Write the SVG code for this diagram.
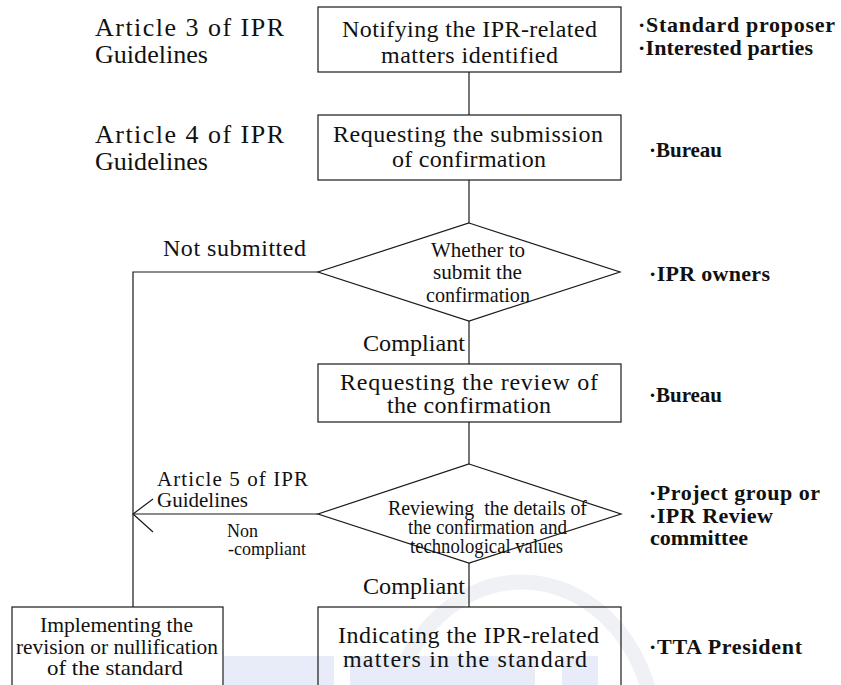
<svg xmlns="http://www.w3.org/2000/svg" width="841" height="685" viewBox="0 0 841 685" font-family="'Liberation Serif', 'Times New Roman', Times, serif">
  <style>
    .shape { fill: none; stroke: #1a1a1a; stroke-width: 1.2; }
    .wire { fill: none; stroke: #1a1a1a; stroke-width: 1.2; }
    .t { font-family: 'Liberation Serif', 'Times New Roman', Times, serif; fill: #111; }
    .art { font-size: 26px; }
    .box { font-size: 24px; }
    .dia1 { font-size: 22px; }
    .dia2 { font-size: 20px; }
    .edge { font-size: 24px; }
    .small { font-size: 18px; }
    .role { font-size: 22px; font-weight: bold; }
  </style>

  <!-- faint background emblem -->
  <g id="emblem">
    <ellipse cx="522" cy="738" rx="133" ry="156" fill="none" stroke="#eff1f5" stroke-width="15"/>
    <rect x="224" y="656" width="110" height="29" fill="#e8ebf8"/>
    <rect x="350" y="656" width="185" height="29" fill="#e8ebf8"/>
    <rect x="562" y="656" width="36" height="29" fill="#e8ebf8"/>
  </g>

  <!-- connectors -->
  <g id="connectors">
    <line class="wire" x1="469" y1="72" x2="469" y2="115"/>
    <line class="wire" x1="469" y1="180" x2="469" y2="223"/>
    <line class="wire" x1="469" y1="321" x2="469" y2="364"/>
    <line class="wire" x1="469" y1="422" x2="469" y2="464"/>
    <line class="wire" x1="469" y1="563" x2="469" y2="607"/>
    <polyline class="wire" points="318,272 133,272 133,607"/>
    <line class="wire" x1="318" y1="514" x2="133" y2="514"/>
    <polyline class="wire" points="153,499 133,514 153,532"/>
  </g>

  <!-- edge labels -->
  <g id="edge-labels" class="t">
    <text class="edge" x="163" y="256" textLength="143" lengthAdjust="spacing">Not submitted</text>
    <text class="edge" x="363" y="351" textLength="102" lengthAdjust="spacingAndGlyphs">Compliant</text>
    <text class="edge" x="363" y="594" textLength="102" lengthAdjust="spacingAndGlyphs">Compliant</text>
    <text style="font-size:21px" x="157" y="486" textLength="151" lengthAdjust="spacing">Article 5 of IPR</text>
    <text style="font-size:21px" x="157" y="507" textLength="91" lengthAdjust="spacingAndGlyphs">Guidelines</text>
    <text class="small" x="227" y="537">Non</text>
    <text class="small" x="228" y="555">-compliant</text>
  </g>

  <!-- article references -->
  <g id="articles" class="t">
    <text class="art" x="95" y="36" textLength="189" lengthAdjust="spacing">Article 3 of IPR</text>
    <text class="art" x="95" y="63" textLength="113" lengthAdjust="spacingAndGlyphs">Guidelines</text>
    <text class="art" x="95" y="143" textLength="189" lengthAdjust="spacing">Article 4 of IPR</text>
    <text class="art" x="95" y="170" textLength="113" lengthAdjust="spacingAndGlyphs">Guidelines</text>
  </g>

  <g id="notify" class="t">
    <rect class="shape" x="318" y="7" width="303" height="65"/>
    <text class="box" x="342" y="37" textLength="255" lengthAdjust="spacing">Notifying the IPR-related</text>
    <text class="box" x="381" y="63" textLength="177" lengthAdjust="spacing">matters identified</text>
  </g>

  <g id="request-submission" class="t">
    <rect class="shape" x="318" y="115" width="303" height="65"/>
    <text class="box" x="333" y="142" textLength="270" lengthAdjust="spacing">Requesting the submission</text>
    <text class="box" x="392" y="167" textLength="154" lengthAdjust="spacing">of confirmation</text>
  </g>

  <g id="submit-decision" class="t">
    <polygon class="shape" points="469,223 620,272 469,321 318,272"/>
    <text class="dia1" x="431" y="257" textLength="94" lengthAdjust="spacingAndGlyphs">Whether to</text>
    <text class="dia1" x="433" y="279" textLength="89" lengthAdjust="spacingAndGlyphs">submit the</text>
    <text class="dia1" x="426" y="302" textLength="104" lengthAdjust="spacingAndGlyphs">confirmation</text>
  </g>

  <g id="request-review" class="t">
    <rect class="shape" x="318" y="364" width="303" height="58"/>
    <text class="box" x="340" y="390" textLength="258" lengthAdjust="spacing">Requesting the review of</text>
    <text class="box" x="387" y="413" textLength="164" lengthAdjust="spacing">the confirmation</text>
  </g>

  <g id="review-decision" class="t">
    <polygon class="shape" points="469,464 621,514 469,563 318,514"/>
    <text class="dia2" x="388" y="515" textLength="199" lengthAdjust="spacingAndGlyphs" xml:space="preserve">Reviewing  the details of</text>
    <text class="dia2" x="408" y="534" textLength="159" lengthAdjust="spacingAndGlyphs">the confirmation and</text>
    <text class="dia2" x="410" y="553" textLength="153" lengthAdjust="spacingAndGlyphs">technological values</text>
  </g>

  <g id="revise-standard" class="t">
    <rect class="shape" x="12" y="607" width="211" height="100"/>
    <text class="dia1" x="40" y="632" textLength="153" lengthAdjust="spacingAndGlyphs">Implementing the</text>
    <text class="dia1" x="16" y="654" textLength="202" lengthAdjust="spacingAndGlyphs">revision or nullification</text>
    <text class="dia1" x="47" y="675" textLength="136" lengthAdjust="spacingAndGlyphs">of the standard</text>
  </g>

  <g id="indicate" class="t">
    <rect class="shape" x="318" y="607" width="303" height="100"/>
    <text class="box" x="338" y="643" textLength="261" lengthAdjust="spacing">Indicating the IPR-related</text>
    <text class="box" x="343" y="667" textLength="244" lengthAdjust="spacing">matters in the standard</text>
  </g>

  <!-- responsible parties -->
  <g id="roles" class="t">
    <text class="role" x="638" y="32" textLength="197" lengthAdjust="spacing">·Standard proposer</text>
    <text class="role" x="638" y="55" textLength="175" lengthAdjust="spacing">·Interested parties</text>
    <text class="role" x="649" y="157" textLength="73" lengthAdjust="spacingAndGlyphs">·Bureau</text>
    <text class="role" x="649" y="281" textLength="121" lengthAdjust="spacing">·IPR owners</text>
    <text class="role" x="649" y="402" textLength="73" lengthAdjust="spacingAndGlyphs">·Bureau</text>
    <text class="role" x="649" y="500" textLength="171" lengthAdjust="spacing">·Project group or</text>
    <text class="role" x="649" y="523" textLength="124" lengthAdjust="spacing">·IPR Review</text>
    <text class="role" x="650" y="545" textLength="98" lengthAdjust="spacingAndGlyphs">committee</text>
    <text class="role" x="649" y="654" textLength="153" lengthAdjust="spacing">·TTA President</text>
  </g>
</svg>
